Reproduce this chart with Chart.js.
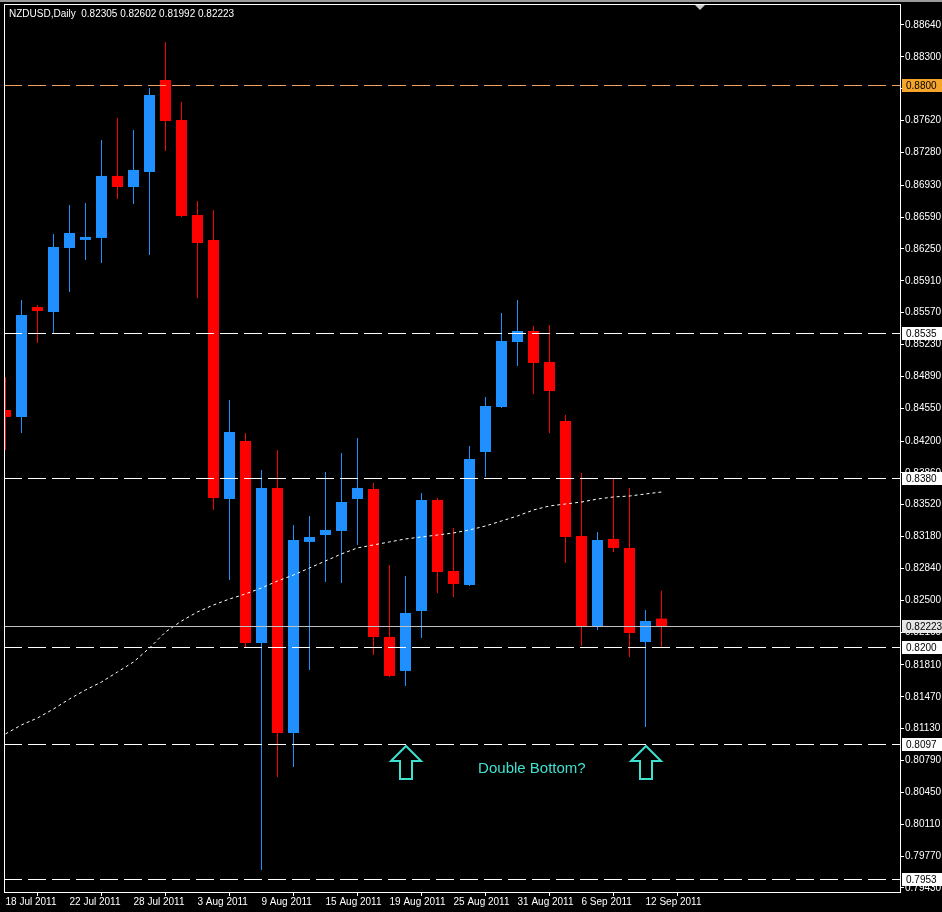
<!DOCTYPE html>
<html>
<head>
<meta charset="utf-8">
<title>NZDUSD,Daily</title>
<script src="https://cdn.jsdelivr.net/npm/chart.js@4/dist/chart.umd.min.js"></script>
<style>
html, body { margin: 0; padding: 0; background: #000; overflow: hidden; }
canvas { display: block; }
</style>
</head>
<body>
<canvas id="myChart" width="942" height="912"></canvas>
<script>
// NZDUSD Daily, velas del 18 Jul 2011 al 13 Sep 2011

var symbolTitle = "NZDUSD,Daily";

var dates = ["18 Jul 2011","19 Jul 2011","20 Jul 2011","21 Jul 2011","22 Jul 2011",
  "25 Jul 2011","26 Jul 2011","27 Jul 2011","28 Jul 2011","29 Jul 2011",
  "1 Aug 2011","2 Aug 2011","3 Aug 2011","4 Aug 2011","5 Aug 2011",
  "8 Aug 2011","9 Aug 2011","10 Aug 2011","11 Aug 2011","12 Aug 2011",
  "15 Aug 2011","16 Aug 2011","17 Aug 2011","18 Aug 2011","19 Aug 2011",
  "22 Aug 2011","23 Aug 2011","24 Aug 2011","25 Aug 2011","26 Aug 2011",
  "29 Aug 2011","30 Aug 2011","31 Aug 2011","1 Sep 2011","2 Sep 2011",
  "5 Sep 2011","6 Sep 2011","7 Sep 2011","8 Sep 2011","9 Sep 2011",
  "12 Sep 2011","13 Sep 2011"];

var opens  = [0.84531,0.84457,0.85630,0.85577,0.86260,0.86346,0.86367,0.87029,0.86911,0.87071,
              0.88053,0.87626,0.86612,0.86346,0.83581,0.84200,0.82045,0.83699,0.81084,0.83123,
              0.83197,0.83240,0.83581,0.83688,0.82109,0.81746,0.82386,0.83571,0.82813,0.82664,
              0.84083,0.84563,0.85257,0.85374,0.85044,0.84414,0.83187,0.82226,0.83155,0.83059,
              0.82055,0.82305];
var highs  = [0.84883,0.85705,0.85652,0.86410,0.86719,0.86740,0.87413,0.87647,0.87519,0.87968,
              0.88459,0.87818,0.86762,0.86666,0.84638,0.84286,0.83891,0.84104,0.83304,0.83400,
              0.83870,0.84072,0.84232,0.83752,0.82877,0.82760,0.83646,0.83592,0.83272,0.84147,
              0.84670,0.85566,0.85705,0.85428,0.85438,0.84478,0.83859,0.83229,0.83795,0.83699,
              0.82397,0.82602];
var lows   = [0.84104,0.84286,0.85246,0.85353,0.85791,0.86132,0.86100,0.86783,0.86730,0.86185,
              0.87295,0.86591,0.85727,0.83464,0.82717,0.82002,0.79622,0.80615,0.80721,0.81757,
              0.82696,0.82685,0.83091,0.81917,0.81682,0.81586,0.82098,0.82578,0.82536,0.82653,
              0.83816,0.84552,0.85001,0.84702,0.84286,0.82898,0.82013,0.82183,0.83016,0.81895,
              0.81148,0.81992];
var closes = [0.84457,0.85545,0.85588,0.86271,0.86420,0.86378,0.87029,0.86911,0.87093,0.87893,
              0.87615,0.86602,0.86313,0.83592,0.84296,0.82045,0.83699,0.81084,0.83144,0.83176,
              0.83251,0.83549,0.83699,0.82109,0.81693,0.82365,0.83571,0.82802,0.82674,0.84008,
              0.84574,0.85268,0.85374,0.85033,0.84734,0.83176,0.82226,0.83144,0.83059,0.82151,
              0.82279,0.82223];
// media movil (linea punteada)
var maValues = [0.81074,0.81170,0.81244,0.81340,0.81447,0.81543,0.81628,0.81735,0.81842,0.81991,
                0.82162,0.82279,0.82376,0.82450,0.82514,0.82568,0.82632,0.82706,0.82770,0.82845,
                0.82920,0.82995,0.83059,0.83091,0.83123,0.83155,0.83176,0.83197,0.83219,0.83251,
                0.83293,0.83347,0.83400,0.83464,0.83507,0.83528,0.83549,0.83581,0.83603,0.83613,
                0.83635,0.83656];

// etiquetas de los ejes
var dateTicks = [0, 4, 8, 12, 16, 20, 24, 28, 32, 36, 40];
var priceTicks = [0.88640,0.88300,0.87960,0.87620,0.87280,0.86930,0.86590,0.86250,0.85910,0.85570,
                  0.85230,0.84890,0.84550,0.84200,0.83860,0.83520,0.83180,0.82840,0.82500,0.82160,
                  0.81810,0.81470,0.81130,0.80790,0.80450,0.80110,0.79770,0.79430];

// lineas horizontales
var levelValues = [0.8800, 0.8535, 0.8380, 0.8200, 0.8097, 0.7953];
var levelLabels = ["0.8800", "0.8535", "0.8380", "0.8200", "0.8097", "0.7953"];
var bidPrice = 0.82223;

// anotaciones
var arrowIndexes = [25, 40];
var arrowPrice = 0.8095;
var noteText = "Double Bottom?";
var noteIndex = 32.9;
var notePrice = 0.8070;

var bullColor = '#1E90FF';
var bearColor = '#FF0000';
var fontFam = '"Liberation Sans", Arial, sans-serif';

var bodyData = [], wickData = [], maData = [], candleColors = [];
for (var i = 0; i < dates.length; i++) {
    bodyData.push({x: i, y: [opens[i], closes[i]]});
    wickData.push({x: i, y: [lows[i], highs[i]]});
    maData.push({x: i, y: maValues[i]});
    candleColors.push(closes[i] >= opens[i] ? bullColor : bearColor);
}

// Dibuja marco, niveles, flechas y texto
var overlayPlugin = {
    id: 'overlay',
    beforeDraw: function(chart) {
        var ctx = chart.ctx;
        ctx.save();
        ctx.fillStyle = '#000';
        ctx.fillRect(0, 0, chart.width, chart.height);
        ctx.fillStyle = '#9a9a9a';
        ctx.fillRect(0, 0, chart.width, 2);
        ctx.restore();
    },
    afterDatasetsDraw: function(chart) {
        var ctx = chart.ctx, a = chart.chartArea, ys = chart.scales.y, xs = chart.scales.x;
        ctx.save();
        ctx.lineWidth = 1;
        // niveles punteados
        ctx.setLineDash([18, 6]);
        for (var k = 0; k < levelValues.length; k++) {
            var y = Math.round(ys.getPixelForValue(levelValues[k])) + 0.5;
            ctx.strokeStyle = k == 0 ? '#F0A060' : '#FFFFFF';
            ctx.beginPath(); ctx.moveTo(a.left, y); ctx.lineTo(a.right, y); ctx.stroke();
        }
        ctx.setLineDash([]);
        // linea bid
        var yb = Math.round(ys.getPixelForValue(bidPrice)) + 0.5;
        ctx.strokeStyle = '#C0C0C0';
        ctx.beginPath(); ctx.moveTo(a.left, yb); ctx.lineTo(a.right, yb); ctx.stroke();

        // flechas
        ctx.strokeStyle = '#40E0D0';
        ctx.lineWidth = 2;
        for (var j = 0; j < arrowIndexes.length; j++) {
            var ax = Math.round(xs.getPixelForValue(arrowIndexes[j]));
            var ay = Math.round(ys.getPixelForValue(arrowPrice));
            ctx.beginPath();
            ctx.moveTo(ax, ay);
            ctx.lineTo(ax + 15, ay + 15);
            ctx.lineTo(ax + 6, ay + 15);
            ctx.lineTo(ax + 6, ay + 33);
            ctx.lineTo(ax - 6, ay + 33);
            ctx.lineTo(ax - 6, ay + 15);
            ctx.lineTo(ax - 15, ay + 15);
            ctx.closePath();
            ctx.stroke();
        }
        ctx.fillStyle = '#40E0D0';
        ctx.font = '15px ' + fontFam;
        ctx.textAlign = 'center';
        ctx.textBaseline = 'middle';
        ctx.fillText(noteText, xs.getPixelForValue(noteIndex), ys.getPixelForValue(notePrice));
        ctx.restore();
    },
    afterDraw: function(chart) {
        var ctx = chart.ctx, a = chart.chartArea, ys = chart.scales.y;
        ctx.save();
        // marco
        ctx.strokeStyle = '#FFFFFF';
        ctx.lineWidth = 1;
        ctx.strokeRect(a.left + 0.5, a.top + 0.5, a.right - a.left, a.bottom - a.top);
        // marcador de desplazamiento
        ctx.fillStyle = '#C8C8C8';
        ctx.beginPath();
        ctx.moveTo(a.right - 205, a.top + 1); ctx.lineTo(a.right - 195, a.top + 1); ctx.lineTo(a.right - 200, a.top + 6);
        ctx.closePath(); ctx.fill();
        // cajas de precio en el eje
        ctx.font = '10px ' + fontFam;
        ctx.textBaseline = 'middle';
        ctx.textAlign = 'left';
        function priceBox(val, txt, bg) {
            var y = Math.round(ys.getPixelForValue(val));
            ctx.fillStyle = bg;
            ctx.fillRect(a.right + 2, y - 6, chart.width - a.right - 2, 13);
            ctx.fillStyle = '#000';
            ctx.fillText(txt, a.right + 6, y + 1);
        }
        for (var k = 0; k < levelValues.length; k++) {
            priceBox(levelValues[k], levelLabels[k], k == 0 ? '#F5A52A' : '#FFFFFF');
        }
        priceBox(bidPrice, bidPrice.toFixed(5), '#E6E6E6');
        // titulo
        ctx.fillStyle = '#FFFFFF';
        var last = dates.length - 1;
        var hdr = symbolTitle + '  ' + [opens[last], highs[last], lows[last], closes[last]].map(function(v){ return v.toFixed(5); }).join(' ');
        ctx.fillText(hdr, a.left + 5, a.top + 10);
        ctx.restore();
    }
};

var myChart = new Chart(document.getElementById('myChart'), {
    type: 'bar',
    data: {
        datasets: [
            {
                type: 'line', label: 'MA', data: maData,
                borderColor: '#FFFFFF', borderWidth: 1, borderDash: [3, 3],
                pointRadius: 0, tension: 0, fill: false
            },
            {
                label: 'body', data: bodyData, grouped: false,
                backgroundColor: candleColors, borderWidth: 0,
                barThickness: 11, inflateAmount: 0
            },
            {
                label: 'wick', data: wickData, grouped: false,
                backgroundColor: candleColors, borderWidth: 0,
                barThickness: 1, inflateAmount: 0
            }
        ]
    },
    options: {
        responsive: false,
        animation: false,
        devicePixelRatio: 1,
        layout: { padding: { top: 4, left: 4, right: 0, bottom: 0 } },
        plugins: { legend: { display: false }, tooltip: { enabled: false } },
        scales: {
            x: {
                type: 'linear',
                min: -0.09375, max: 55.90625,
                offset: false,
                afterBuildTicks: function(scale) {
                    scale.ticks = dateTicks.map(function(v){ return {value: v}; });
                },
                afterFit: function(scale) {
                    scale.height = 20; scale.paddingLeft = 0; scale.paddingRight = 0;
                },
                grid: { drawOnChartArea: false, drawTicks: true, tickLength: 4, color: '#FFFFFF' },
                border: { display: false },
                ticks: {
                    color: '#FFFFFF', font: { family: fontFam, size: 10 },
                    padding: 0, align: 'start', maxRotation: 0, autoSkip: false,
                    callback: function(v) { return dates[v] || ''; }
                }
            },
            y: {
                position: 'right',
                min: 0.79387, max: 0.88864,
                afterBuildTicks: function(scale) {
                    scale.ticks = priceTicks.map(function(v){ return {value: v}; });
                },
                afterFit: function(scale) {
                    scale.width = 42; scale.paddingTop = 0; scale.paddingBottom = 0;
                },
                grid: { drawOnChartArea: false, drawTicks: true, tickLength: 4, color: '#FFFFFF' },
                border: { display: false },
                ticks: {
                    color: '#FFFFFF', font: { family: fontFam, size: 10 },
                    padding: 1, autoSkip: false,
                    callback: function(v) { return Number(v).toFixed(5); }
                }
            }
        }
    },
    plugins: [overlayPlugin]
});
</script>
</body>
</html>
